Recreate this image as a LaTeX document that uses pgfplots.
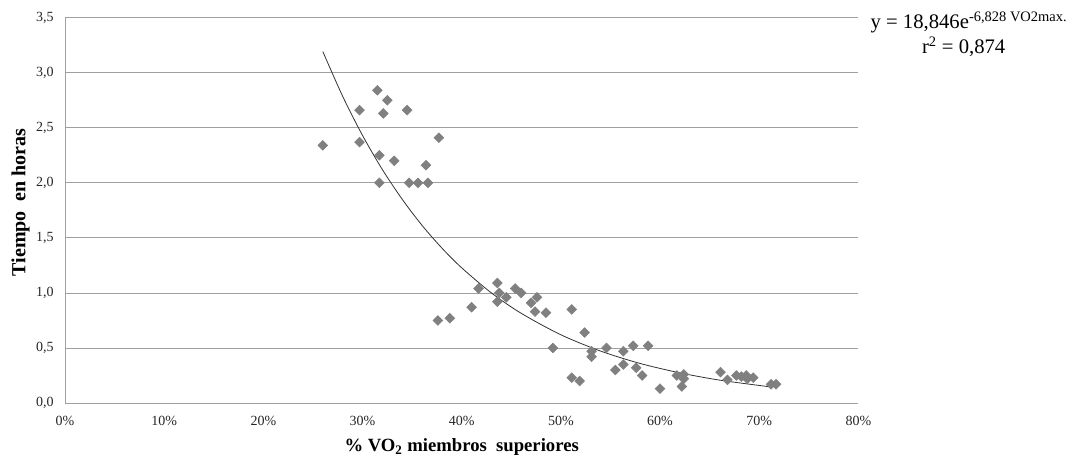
\documentclass[border=0pt]{standalone}
\usepackage{fontspec}
\setmainfont{Liberation Serif}
\usepackage{pgfplots}
\pgfplotsset{compat=1.18}
\definecolor{ptgray}{RGB}{128,128,128}
\definecolor{gridgray}{RGB}{160,160,160}

\begin{document}
\begin{tikzpicture}
\begin{axis}[
    name=ax,
    scale only axis,
    width=595pt, height=289pt,
    xmin=0, xmax=80, ymin=0, ymax=3.5,
    xtick={0,10,...,80},
    xticklabels={0\%,10\%,20\%,30\%,40\%,50\%,60\%,70\%,80\%},
    ytick={0,0.5,...,3.5},
    /pgf/number format/assume math mode=true,
    tick label style={font=\fontsize{10.5}{12}\selectfont, text=black!85},
    xticklabel style={yshift=-6pt},
    yticklabel style={xshift=-5pt, /pgf/number format/.cd, fixed, fixed zerofill, precision=1, use comma},
    major tick length=0pt,
    axis x line*=bottom, axis y line*=left,
    axis line style={gridgray, -},
    ymajorgrids, grid style={gridgray, line width=0.6pt},
    xlabel={\bfseries \% VO\textsubscript{2} miembros\ \ superiores},
    ylabel={\bfseries Tiempo\ \ en horas},
    xlabel style={font=\fontsize{14}{16}\selectfont, yshift=-3pt},
    ylabel style={font=\fontsize{15}{17}\selectfont, yshift=-2pt, xshift=6pt},
]
\addplot[only marks, mark=square*, mark size=2.6pt, mark options={rotate=45, fill=ptgray, draw=ptgray}] coordinates {
(26.0,2.34) (29.7,2.66) (29.7,2.37) (31.5,2.84) (31.7,2.25) (31.7,2.00)
(32.1,2.63) (32.5,2.75) (33.2,2.20) (34.5,2.66) (34.7,2.00) (35.6,2.00)
(36.4,2.16) (36.6,2.00) (37.7,2.41) (37.6,0.75) (38.8,0.77) (41.0,0.87)
(41.7,1.04) (43.6,1.09) (43.8,1.00) (43.6,0.92) (44.5,0.96) (45.4,1.04)
(46.0,1.00) (47.0,0.91) (47.6,0.96) (47.4,0.83) (48.5,0.82) (49.2,0.50)
(51.1,0.85) (51.1,0.23) (51.9,0.20) (52.4,0.64) (53.1,0.47) (53.1,0.42)
(54.6,0.50) (55.5,0.30) (56.3,0.47) (56.3,0.35) (57.3,0.52) (57.6,0.32)
(58.2,0.25) (58.8,0.52) (60.0,0.13) (61.7,0.25) (62.4,0.26) (62.4,0.22)
(62.2,0.15) (66.1,0.28) (66.8,0.21) (67.7,0.25) (68.2,0.24) (68.7,0.25)
(68.8,0.22) (69.4,0.23) (71.2,0.17) (71.7,0.17)
};
\addplot[black!80, line width=0.6pt, smooth] coordinates {
(26,3.192) (28,2.786) (30,2.431) (32,2.121) (34,1.851) (36,1.614)
(38,1.408) (40,1.228) (43,1.000) (46,0.815) (50,0.620) (54,0.472)
(58,0.359) (62,0.274) (66,0.208) (71,0.148)
};
\end{axis}
\node[font=\fontsize{15.5}{17}\selectfont, anchor=base, inner sep=0pt]
  at ([shift={(678pt,281.25pt)}]ax.south west) {y = 18,846e\textsuperscript{-6,828 VO2max.}};
\node[font=\fontsize{15.5}{17}\selectfont, anchor=base, inner sep=0pt]
  at ([shift={(674pt,262.5pt)}]ax.south west) {r\textsuperscript{2} = 0,874};
\pgfresetboundingbox
\path[use as bounding box] ([shift={(-48.75pt,-39pt)}]ax.south west) rectangle ([shift={(757.5pt,302.25pt)}]ax.south west);
\end{tikzpicture}
\end{document}
